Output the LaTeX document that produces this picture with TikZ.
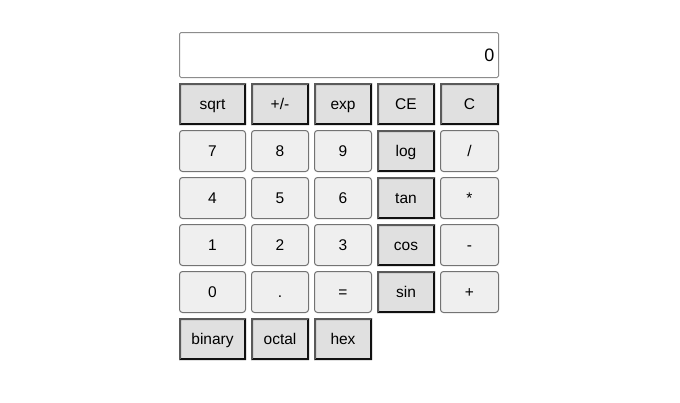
\documentclass[tikz,border=0pt]{standalone}
\usepackage{fontspec}
\setmainfont{Liberation Sans}
\begin{document}
\begin{tikzpicture}[x=1pt,y=-1pt,
  dlab/.style={inner sep=0pt, anchor=base, font=\fontsize{15.5}{18}\selectfont},
  disp/.style={draw=gray!90, fill=white, line width=1pt, rounded corners=1.5pt}
]
\definecolor{lightfill}{HTML}{EFEFEF}
\definecolor{darkfill}{HTML}{E0E0E0}
\definecolor{tlborder}{HTML}{5A5A5A}
\definecolor{brborder}{HTML}{111111}
\useasboundingbox (0,0) rectangle (680,402);
\fill[white] (0,0) rectangle (680,402);
% display
\draw[disp] (179.5,32.5) rectangle (498.5,77.5);
\node[anchor=base east, inner sep=0pt, font=\fontsize{18}{20}\selectfont] (display) at (494.5,61.5) {0};
% column edges
\def\colL{{179,251,314,377,440}}
\def\colR{{246,309,372,435,499}}
\def\rowT{{83,130,177,224,271,318}}
\newcommand{\lightbtn}[4]{% name, col, row, text
  \pgfmathsetmacro{\xa}{\colL[#2]+0.5}\pgfmathsetmacro{\xb}{\colR[#2]-0.5}
  \pgfmathsetmacro{\ya}{\rowT[#3]+0.5}\pgfmathsetmacro{\yb}{\rowT[#3]+41.5}
  \draw[draw=black!55, fill=lightfill, line width=1pt, rounded corners=3pt] (\xa,\ya) rectangle (\xb,\yb);
  \node[dlab] (#1) at ({(\xa+\xb)/2},{(\ya+\yb)/2+5.5}) {#4};
}
\newcommand{\darkbtn}[4]{%
  \pgfmathsetmacro{\xa}{\colL[#2]}\pgfmathsetmacro{\xb}{\colR[#2]}
  \pgfmathsetmacro{\ya}{\rowT[#3]}\pgfmathsetmacro{\yb}{\rowT[#3]+42}
  \fill[darkfill] (\xa,\ya) rectangle (\xb,\yb);
  \fill[brborder] (\xa,\yb) -- (\xb,\yb) -- (\xb,\ya) -- (\xb-2,\ya+2) -- (\xb-2,\yb-2) -- (\xa+2,\yb-2) -- cycle;
  \fill[tlborder] (\xa,\yb) -- (\xa,\ya) -- (\xb,\ya) -- (\xb-2,\ya+2) -- (\xa+2,\ya+2) -- (\xa+2,\yb-2) -- cycle;
  \node[dlab] (#1) at ({(\xa+\xb)/2},{(\ya+\yb)/2+5.5}) {#4};
}
% row 0
\darkbtn{sqrt}{0}{0}{sqrt}
\darkbtn{pm}{1}{0}{+/-}
\darkbtn{exp}{2}{0}{exp}
\darkbtn{ce}{3}{0}{CE}
\darkbtn{c}{4}{0}{C}
% row 1
\lightbtn{b7}{0}{1}{7}
\lightbtn{b8}{1}{1}{8}
\lightbtn{b9}{2}{1}{9}
\darkbtn{log}{3}{1}{log}
\lightbtn{div}{4}{1}{/}
% row 2
\lightbtn{b4}{0}{2}{4}
\lightbtn{b5}{1}{2}{5}
\lightbtn{b6}{2}{2}{6}
\darkbtn{tan}{3}{2}{tan}
\lightbtn{mul}{4}{2}{*}
% row 3
\lightbtn{b1}{0}{3}{1}
\lightbtn{b2}{1}{3}{2}
\lightbtn{b3}{2}{3}{3}
\darkbtn{cos}{3}{3}{cos}
\lightbtn{sub}{4}{3}{-}
% row 4
\lightbtn{b0}{0}{4}{0}
\lightbtn{dot}{1}{4}{.}
\lightbtn{eq}{2}{4}{=}
\darkbtn{sin}{3}{4}{sin}
\lightbtn{add}{4}{4}{+}
% row 5
\darkbtn{binary}{0}{5}{binary}
\darkbtn{octal}{1}{5}{octal}
\darkbtn{hex}{2}{5}{hex}
\end{tikzpicture}
\end{document}
